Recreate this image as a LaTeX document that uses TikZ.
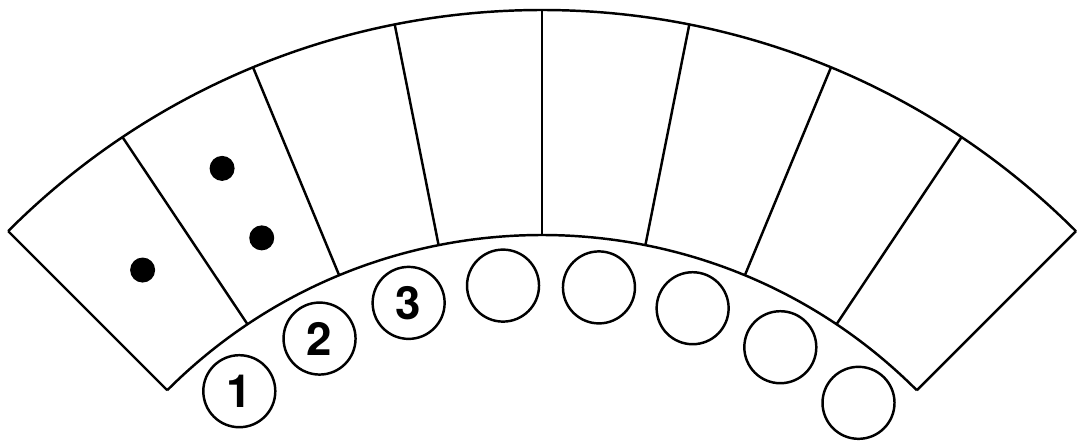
\documentclass[tikz,border=0pt]{standalone}
\usepackage{fontspec}
\newfontfamily\lblfont{TeX Gyre Heros}
\usetikzlibrary{calc}

\begin{document}
\begin{tikzpicture}[
  line width=0.7pt,
  seat/.style={draw, circle, minimum size=0.72cm, inner sep=0pt,
               font=\lblfont\bfseries\fontsize{13}{15}\selectfont},
  chip/.style={fill=black, circle, minimum size=0.25cm, inner sep=0pt},
]
  \useasboundingbox (0,0) rectangle (10.78,-4.42);
  \coordinate (c) at (5.42,-7.65);

  \begin{scope}[shift={(c)}]
    % Band: outer and inner arcs
    \draw (135:7.55) arc[start angle=135, end angle=45, radius=7.55];
    \draw (135:5.30) arc[start angle=135, end angle=45, radius=5.30];

    % Radial dividers (8 segments)
    \foreach \a in {0,...,8}
      \draw ({135-11.25*\a}:5.30) -- ({135-11.25*\a}:7.55);

    % Dots in the first two segments
    \node[chip] (dot1) at (128.9:6.36) {};
    \node[chip] (dot2) at (118.2:6.77) {};
    \node[chip] (dot3) at (118.0:5.97) {};

    % Circles below the band
    \foreach \i/\t in {1/1,2/2,3/3,4/,5/,6/,7/,8/}
      \node[seat] (seat\i) at ({129.0-11.45*(\i-1)}:4.81) {\t};
  \end{scope}
\end{tikzpicture}
\end{document}
